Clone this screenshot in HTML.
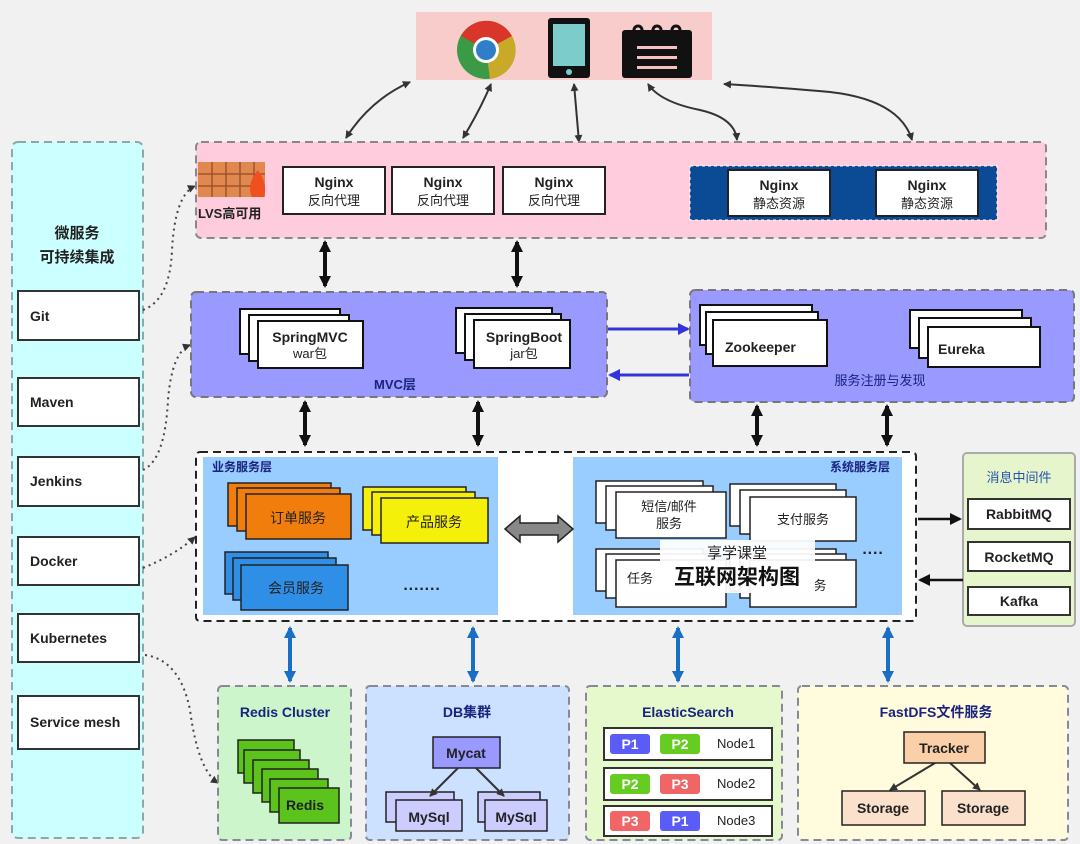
<!DOCTYPE html>
<html><head><meta charset="utf-8"><style>
html,body{margin:0;padding:0;background:#f1f1f1;}
svg{display:block;font-family:"Liberation Sans","Noto Sans CJK SC",sans-serif;}
.b{font-weight:bold;}
</style></head><body>
<svg width="1080" height="844" viewBox="0 0 1080 844" xmlns="http://www.w3.org/2000/svg">
<defs>
<marker id="ah" markerWidth="8" markerHeight="8" refX="7" refY="4" orient="auto-start-reverse" markerUnits="userSpaceOnUse"><path d="M0,0 L8,4 L0,8 z" fill="#333"/></marker>
<marker id="ahb" markerWidth="12" markerHeight="12" refX="10" refY="6" orient="auto-start-reverse" markerUnits="userSpaceOnUse"><path d="M0,0 L12,6 L0,12 z" fill="#111"/></marker>
<marker id="ahl" markerWidth="12" markerHeight="12" refX="10" refY="6" orient="auto-start-reverse" markerUnits="userSpaceOnUse"><path d="M0,0 L12,6 L0,12 z" fill="#1a6fc4"/></marker>
<marker id="ahp" markerWidth="12" markerHeight="12" refX="10" refY="6" orient="auto-start-reverse" markerUnits="userSpaceOnUse"><path d="M0,0 L12,6 L0,12 z" fill="#3333dd"/></marker>
</defs>

<!-- top client box -->
<rect x="416" y="12" width="296" height="68" fill="#f9cccc"/>
<circle cx="486" cy="50" r="29" fill="#3a9a45"/>
<path d="M486 50 L461 36 A29 29 0 0 1 512 36 Z" fill="#d9352b"/>
<path d="M486 50 L512 36 A29 29 0 0 1 490 79 Z" fill="#c9a928"/>
<circle cx="486" cy="50" r="13" fill="#fff"/>
<circle cx="486" cy="50" r="10" fill="#2f7fc8"/>
<rect x="548" y="18" width="42" height="60" rx="3" fill="#111"/>
<rect x="553" y="24" width="32" height="42" fill="#7ccccc"/>
<circle cx="569" cy="72" r="3" fill="#7ccccc"/>
<rect x="622" y="30" width="70" height="48" rx="3" fill="#111"/>
<circle cx="638" cy="30" r="4" fill="none" stroke="#111" stroke-width="3"/>
<circle cx="657" cy="30" r="4" fill="none" stroke="#111" stroke-width="3"/>
<circle cx="676" cy="30" r="4" fill="none" stroke="#111" stroke-width="3"/>
<rect x="637" y="46" width="40" height="3" fill="#f4c0c0"/>
<rect x="637" y="56" width="40" height="3" fill="#f4c0c0"/>
<rect x="637" y="66" width="40" height="3" fill="#f4c0c0"/>

<!-- top arrows -->
<g stroke="#333" stroke-width="2" fill="none" marker-start="url(#ah)" marker-end="url(#ah)">
<path d="M346 138 Q370 100 410 82"/>
<path d="M463 138 Q480 110 491 84"/>
<path d="M579 142 L574 84"/>
<path d="M737 140 Q735 118 700 110 Q660 102 648 84"/>
<path d="M912 140 Q900 100 830 92 Q760 86 724 84"/>
</g>

<!-- left CI panel -->
<rect x="12" y="142" width="131" height="696" rx="6" fill="#ccffff" stroke="#8aa" stroke-width="2" stroke-dasharray="8,5"/>
<text x="77" y="238" font-size="15" text-anchor="middle" class="b" fill="#222">微服务</text>
<text x="77" y="262" font-size="15" text-anchor="middle" class="b" fill="#222">可持续集成</text>
<g fill="#fff" stroke="#333" stroke-width="2">
<rect x="18" y="291" width="121" height="49"/>
<rect x="18" y="378" width="121" height="48"/>
<rect x="18" y="457" width="121" height="49"/>
<rect x="18" y="537" width="121" height="48"/>
<rect x="18" y="614" width="121" height="48"/>
<rect x="18" y="696" width="121" height="53"/>
</g>
<g font-size="14" class="b" fill="#222">
<text x="30" y="321">Git</text><text x="30" y="407">Maven</text><text x="30" y="486">Jenkins</text>
<text x="30" y="566">Docker</text><text x="30" y="643">Kubernetes</text><text x="30" y="727">Service mesh</text>
</g>
<g stroke="#444" stroke-width="2" fill="none" stroke-dasharray="2,4" marker-end="url(#ah)">
<path d="M143 310 Q170 300 172 250 Q175 195 195 186"/>
<path d="M143 470 Q165 460 168 400 Q172 352 190 345"/>
<path d="M143 568 Q175 555 195 537"/>
<path d="M145 655 Q180 660 190 710 Q198 770 218 783"/>
</g>

<!-- nginx layer -->
<rect x="196" y="142" width="850" height="96" rx="5" fill="#ffccdd" stroke="#888" stroke-width="2" stroke-dasharray="8,5"/>
<rect x="198" y="162" width="67" height="35" fill="#e0884e"/>
<g stroke="#a0522d" stroke-width="1.5">
<line x1="198" y1="174" x2="265" y2="174"/><line x1="198" y1="186" x2="265" y2="186"/>
<line x1="212" y1="162" x2="212" y2="197"/><line x1="226" y1="162" x2="226" y2="197"/><line x1="240" y1="162" x2="240" y2="197"/><line x1="254" y1="162" x2="254" y2="197"/>
</g>
<path d="M252 197 Q246 184 258 170 Q268 184 264 197 Z" fill="#f05020"/>
<text x="198" y="218" font-size="13" class="b" fill="#222">LVS高可用</text>
<g fill="#fff" stroke="#222" stroke-width="2">
<rect x="283" y="167" width="102" height="47"/><rect x="392" y="167" width="102" height="47"/><rect x="503" y="167" width="102" height="47"/>
</g>
<rect x="690" y="166" width="307" height="54" fill="#0b4a94" stroke="#fff" stroke-dasharray="3,3"/>
<g fill="#fff" stroke="#222" stroke-width="2">
<rect x="728" y="170" width="102" height="46"/><rect x="876" y="170" width="102" height="46"/>
</g>
<g font-size="14" text-anchor="middle" fill="#222">
<text x="334" y="187" class="b">Nginx</text><text x="334" y="205" font-size="13">反向代理</text>
<text x="443" y="187" class="b">Nginx</text><text x="443" y="205" font-size="13">反向代理</text>
<text x="554" y="187" class="b">Nginx</text><text x="554" y="205" font-size="13">反向代理</text>
<text x="779" y="190" class="b">Nginx</text><text x="779" y="208" font-size="13">静态资源</text>
<text x="927" y="190" class="b">Nginx</text><text x="927" y="208" font-size="13">静态资源</text>
</g>

<!-- black double arrows -->
<g stroke="#111" stroke-width="4" marker-start="url(#ahb)" marker-end="url(#ahb)">
<line x1="325" y1="242" x2="325" y2="286"/><line x1="517" y1="242" x2="517" y2="286"/>
<line x1="305" y1="402" x2="305" y2="445"/><line x1="478" y1="402" x2="478" y2="445"/>
<line x1="757" y1="406" x2="757" y2="445"/><line x1="887" y1="406" x2="887" y2="445"/>
</g>

<!-- MVC layer -->
<rect x="191" y="292" width="416" height="105" rx="5" fill="#9999ff" stroke="#777" stroke-width="2" stroke-dasharray="8,5"/>
<g fill="#fff" stroke="#111" stroke-width="2">
<rect x="240" y="309" width="100" height="45"/><rect x="249" y="315" width="100" height="46"/><rect x="258" y="321" width="105" height="47"/>
<rect x="456" y="308" width="96" height="45"/><rect x="465" y="314" width="96" height="46"/><rect x="474" y="320" width="96" height="48"/>
</g>
<g font-size="14" text-anchor="middle" fill="#222">
<text x="310" y="342" class="b">SpringMVC</text><text x="310" y="358" font-size="13">war包</text>
<text x="524" y="342" class="b">SpringBoot</text><text x="524" y="358" font-size="13">jar包</text>
</g>
<text x="395" y="389" font-size="13" class="b" fill="#1a237e" text-anchor="middle">MVC层</text>

<!-- registry -->
<rect x="690" y="290" width="384" height="112" rx="5" fill="#9999ff" stroke="#777" stroke-width="2" stroke-dasharray="8,5"/>
<g fill="#fff" stroke="#111" stroke-width="2">
<rect x="700" y="305" width="112" height="40"/><rect x="706" y="312" width="112" height="42"/><rect x="713" y="320" width="114" height="46"/>
<rect x="910" y="310" width="112" height="38"/><rect x="919" y="318" width="112" height="40"/><rect x="928" y="327" width="112" height="40"/>
</g>
<text x="725" y="352" font-size="14" class="b" fill="#222">Zookeeper</text>
<text x="938" y="354" font-size="14" class="b" fill="#222">Eureka</text>
<text x="880" y="385" font-size="13" fill="#1a237e" text-anchor="middle">服务注册与发现</text>
<g stroke="#3333dd" stroke-width="3">
<line x1="608" y1="329" x2="688" y2="329" marker-end="url(#ahp)"/>
<line x1="689" y1="375" x2="610" y2="375" marker-end="url(#ahp)"/>
</g>

<!-- service layer -->
<rect x="196" y="452" width="720" height="169" rx="4" fill="#fff" stroke="#222" stroke-width="2" stroke-dasharray="8,5"/>
<rect x="203" y="457" width="295" height="158" fill="#99ccff"/>
<rect x="573" y="457" width="329" height="158" fill="#99ccff"/>
<text x="212" y="471" font-size="12" class="b" fill="#1a237e">业务服务层</text>
<text x="890" y="471" font-size="12" class="b" fill="#1a237e" text-anchor="end">系统服务层</text>
<g stroke="#222" stroke-width="1.5">
<rect x="228" y="483" width="103" height="43" fill="#f07d0c"/><rect x="237" y="488" width="103" height="43" fill="#f07d0c"/><rect x="246" y="494" width="105" height="45" fill="#f07d0c"/>
<rect x="363" y="487" width="103" height="43" fill="#f5f00a"/><rect x="372" y="492" width="103" height="43" fill="#f5f00a"/><rect x="381" y="498" width="107" height="45" fill="#f5f00a"/>
<rect x="225" y="552" width="103" height="42" fill="#2f8fe6"/><rect x="233" y="558" width="103" height="42" fill="#2f8fe6"/><rect x="241" y="565" width="107" height="45" fill="#2f8fe6"/>
</g>
<g font-size="14" text-anchor="middle" fill="#222">
<text x="298" y="523">订单服务</text><text x="434" y="527">产品服务</text><text x="296" y="593">会员服务</text>
</g>
<text x="422" y="594" font-size="16" class="b" fill="#222" text-anchor="middle">·······</text>
<path d="M505 529 L520 516 L520 523 L558 523 L558 516 L573 529 L558 542 L558 535 L520 535 L520 542 Z" fill="#888" stroke="#222" stroke-width="1.5"/>
<g fill="#fff" stroke="#222" stroke-width="1.5">
<rect x="596" y="481" width="107" height="42"/><rect x="606" y="486" width="107" height="44"/><rect x="616" y="492" width="110" height="46"/>
<rect x="730" y="484" width="106" height="42"/><rect x="740" y="490" width="106" height="44"/><rect x="750" y="497" width="106" height="44"/>
<rect x="596" y="549" width="107" height="42"/><rect x="606" y="554" width="107" height="44"/><rect x="616" y="560" width="110" height="47"/>
<rect x="730" y="549" width="106" height="42"/><rect x="740" y="554" width="106" height="44"/><rect x="750" y="560" width="106" height="47"/>
</g>
<g font-size="13" text-anchor="middle" fill="#222">
<text x="669" y="511">短信/邮件</text><text x="669" y="528">服务</text><text x="803" y="524">支付服务</text>
<text x="640" y="583">任务</text><text x="820" y="590">务</text>
</g>
<text x="873" y="558" font-size="16" class="b" fill="#222" text-anchor="middle">····</text>
<rect x="660" y="540" width="155" height="53" fill="#fff" fill-opacity="0.93"/>
<text x="737" y="558" font-size="15" text-anchor="middle" fill="#222">享学课堂</text>
<text x="737" y="584" font-size="21" class="b" text-anchor="middle" fill="#111">互联网架构图</text>

<!-- message middleware -->
<rect x="963" y="453" width="112" height="173" rx="4" fill="#e6f5cc" stroke="#aaa" stroke-width="2"/>
<text x="1019" y="482" font-size="13" fill="#2255aa" text-anchor="middle">消息中间件</text>
<g fill="#fff" stroke="#333" stroke-width="2">
<rect x="968" y="499" width="102" height="30"/><rect x="968" y="542" width="102" height="29"/><rect x="968" y="587" width="102" height="28"/>
</g>
<g font-size="14" class="b" text-anchor="middle" fill="#222">
<text x="1019" y="519">RabbitMQ</text><text x="1019" y="562">RocketMQ</text><text x="1019" y="606">Kafka</text>
</g>
<g stroke="#111" stroke-width="2.5">
<line x1="918" y1="519" x2="960" y2="519" marker-end="url(#ahb)"/>
<line x1="963" y1="580" x2="920" y2="580" marker-end="url(#ahb)"/>
</g>

<!-- blue arrows -->
<g stroke="#1a6fc4" stroke-width="4" marker-start="url(#ahl)" marker-end="url(#ahl)">
<line x1="290" y1="628" x2="290" y2="681"/><line x1="473" y1="628" x2="473" y2="681"/>
<line x1="678" y1="628" x2="678" y2="681"/><line x1="888" y1="628" x2="888" y2="681"/>
</g>

<!-- bottom panels -->
<rect x="218" y="686" width="133" height="154" rx="4" fill="#ccf5cc" stroke="#889" stroke-width="2" stroke-dasharray="8,5"/>
<rect x="366" y="686" width="203" height="154" rx="4" fill="#cce0ff" stroke="#889" stroke-width="2" stroke-dasharray="8,5"/>
<rect x="586" y="686" width="196" height="154" rx="4" fill="#e6f9cc" stroke="#889" stroke-width="2" stroke-dasharray="8,5"/>
<rect x="798" y="686" width="270" height="154" rx="4" fill="#fffbdc" stroke="#889" stroke-width="2" stroke-dasharray="8,5"/>
<g font-size="14" class="b" text-anchor="middle" fill="#1a237e">
<text x="285" y="717">Redis Cluster</text><text x="467" y="717">DB集群</text><text x="688" y="717">ElasticSearch</text><text x="936" y="717">FastDFS文件服务</text>
</g>
<g fill="#5cc21c" stroke="#222" stroke-width="1.5">
<rect x="238" y="740" width="56" height="33"/><rect x="244" y="750" width="56" height="33"/><rect x="253" y="760" width="56" height="33"/>
<rect x="262" y="769" width="56" height="33"/><rect x="270" y="779" width="58" height="33"/><rect x="279" y="788" width="60" height="35"/>
</g>
<text x="305" y="810" font-size="14" class="b" fill="#222" text-anchor="middle">Redis</text>
<rect x="433" y="737" width="67" height="31" fill="#9999ff" stroke="#222" stroke-width="1.5"/>
<text x="466" y="758" font-size="14" class="b" fill="#222" text-anchor="middle">Mycat</text>
<g fill="#ccccff" stroke="#222" stroke-width="1.5">
<rect x="386" y="792" width="68" height="30"/><rect x="396" y="800" width="66" height="31"/>
<rect x="478" y="792" width="62" height="30"/><rect x="485" y="800" width="62" height="31"/>
</g>
<g font-size="14" class="b" text-anchor="middle" fill="#222"><text x="429" y="822">MySql</text><text x="516" y="822">MySql</text></g>
<g stroke="#333" stroke-width="2" marker-end="url(#ah)">
<line x1="458" y1="768" x2="430" y2="796"/><line x1="476" y1="768" x2="504" y2="796"/>
<line x1="935" y1="763" x2="890" y2="790"/><line x1="950" y1="763" x2="980" y2="790"/>
</g>
<g fill="#fff" stroke="#333" stroke-width="2">
<rect x="604" y="728" width="168" height="32"/><rect x="604" y="768" width="168" height="32"/><rect x="604" y="806" width="168" height="30"/>
</g>
<g>
<rect x="610" y="734" width="40" height="20" rx="3" fill="#5b5bf5"/><rect x="660" y="734" width="40" height="20" rx="3" fill="#66cc22"/>
<rect x="610" y="774" width="40" height="20" rx="3" fill="#66cc22"/><rect x="660" y="774" width="40" height="20" rx="3" fill="#f06666"/>
<rect x="610" y="811" width="40" height="20" rx="3" fill="#f06666"/><rect x="660" y="811" width="40" height="20" rx="3" fill="#5b5bf5"/>
</g>
<g font-size="14" class="b" text-anchor="middle" fill="#fff">
<text x="630" y="749">P1</text><text x="680" y="749">P2</text><text x="630" y="789">P2</text><text x="680" y="789">P3</text><text x="630" y="826">P3</text><text x="680" y="826">P1</text>
</g>
<g font-size="13" fill="#222"><text x="717" y="748">Node1</text><text x="717" y="788">Node2</text><text x="717" y="825">Node3</text></g>
<rect x="904" y="732" width="81" height="31" fill="#fbd0a8" stroke="#222" stroke-width="1.5"/>
<rect x="842" y="791" width="83" height="34" fill="#fbe0cc" stroke="#222" stroke-width="1.5"/>
<rect x="942" y="791" width="83" height="34" fill="#fbe0cc" stroke="#222" stroke-width="1.5"/>
<g font-size="14" class="b" text-anchor="middle" fill="#222">
<text x="944" y="753">Tracker</text><text x="883" y="813">Storage</text><text x="983" y="813">Storage</text>
</g>
</svg>
</body></html>
